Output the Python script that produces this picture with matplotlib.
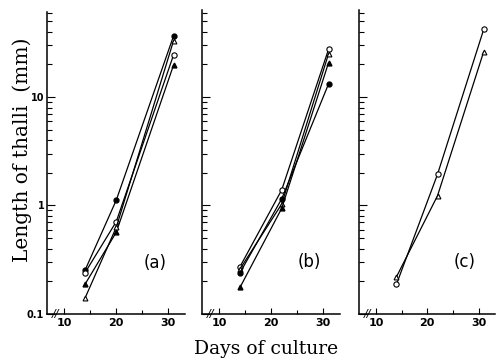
import matplotlib

matplotlib.use("Agg")
import matplotlib.pyplot as plt
from matplotlib.ticker import LogLocator, NullFormatter, FixedLocator

# growth of thalli, days of culture vs length (mm)
days_a = [14, 20, 31]
a_filled_circle = [0.253, 1.12, 36.5]
a_open_circle = [0.24, 0.71, 24.4]
a_filled_tri = [0.188, 0.567, 19.7]
a_open_tri = [0.14, 0.63, 33.0]

days_b = [14, 22, 31]
b_open_circle = [0.273, 1.39, 27.5]
b_open_tri = [0.26, 1.03, 25.0]
b_filled_circle = [0.24, 1.15, 13.2]
b_filled_tri = [0.176, 0.94, 20.7]

days_c = [14, 22, 31]
c_open_circle = [0.188, 1.94, 42.0]
c_open_tri = [0.22, 1.23, 26.2]

panel_tags = ["(a)", "(b)", "(c)"]
x_ticks = [10, 20, 30]
x_minor = [15, 25]
y_ticks = [0.1, 1, 10]
y_ticklabels = ["0.1", "1", "10"]

filled_circle = dict(marker="o", mfc="black", mec="black", ms=3.5)
open_circle = dict(marker="o", mfc="white", mec="black", ms=3.8, mew=0.8)
filled_tri = dict(marker="^", mfc="black", mec="black", ms=3.5)
open_tri = dict(marker="^", mfc="white", mec="black", ms=3.5, mew=0.8)

panels = [
    (days_a, [(a_filled_circle, filled_circle), (a_open_circle, open_circle),
              (a_filled_tri, filled_tri), (a_open_tri, open_tri)]),
    (days_b, [(b_open_circle, open_circle), (b_open_tri, open_tri),
              (b_filled_circle, filled_circle), (b_filled_tri, filled_tri)]),
    (days_c, [(c_open_circle, open_circle), (c_open_tri, open_tri)]),
]

W, H = 497, 364
fig = plt.figure(figsize=(W / 100, H / 100), dpi=100)
lefts = [47, 202, 359]
widths = [138, 138, 136]
tops = [12, 10, 10]
bottom = 314

for i, (days, series) in enumerate(panels):
    ax = fig.add_axes([lefts[i] / W, (H - bottom) / H, widths[i] / W, (bottom - tops[i]) / H])
    for vals, style in series:
        ax.plot(days, vals, color="black", lw=0.9, **style, zorder=3)
    ax.set_yscale("log")
    ax.set_xlim(6.7, 33.2)
    ax.set_ylim(0.1, 10 ** ((bottom - tops[i]) / 108.5 - 1))
    for side in ("top", "right"):
        ax.spines[side].set_visible(False)
    for side in ("left", "bottom"):
        ax.spines[side].set_linewidth(1.1)

    ax.xaxis.set_major_locator(FixedLocator(x_ticks))
    ax.xaxis.set_minor_locator(FixedLocator(x_minor))
    ax.set_xticklabels([str(t) for t in x_ticks], fontsize=8, fontweight="bold",
                       family="DejaVu Sans")
    ax.tick_params(axis="x", which="major", direction="in", length=4, width=0.8, pad=3)
    ax.tick_params(axis="x", which="minor", direction="in", length=3, width=0.8)

    ax.yaxis.set_major_locator(FixedLocator(y_ticks))
    ax.yaxis.set_minor_locator(LogLocator(base=10, subs=range(2, 10)))
    ax.yaxis.set_minor_formatter(NullFormatter())
    if i == 0:
        ax.set_yticklabels(y_ticklabels, fontsize=7, fontweight="bold", family="DejaVu Sans")
    else:
        ax.set_yticklabels([])
    ax.tick_params(axis="y", which="major", direction="in", length=6, width=0.8, pad=2)
    ax.tick_params(axis="y", which="minor", direction="in", length=3.5, width=0.8)

    # axis break mark near the origin
    ax.text(8.4, 0.1, "//", fontsize=8, style="italic", ha="center", va="center",
            family="DejaVu Sans")
    ax.text(0.78, 0.17, panel_tags[i], transform=ax.transAxes, fontsize=12,
            ha="center", va="center", family="DejaVu Sans")

fig.text(22 / W, 1 - 150 / H, "Length of thalli  (mm)", rotation=90, fontsize=14.5,
         family="DejaVu Serif", ha="center", va="center")
fig.text(266 / W, 1 - 349 / H, "Days of culture", fontsize=13.5,
         family="DejaVu Serif", ha="center", va="center")

fig.savefig("out.png", dpi=100)
